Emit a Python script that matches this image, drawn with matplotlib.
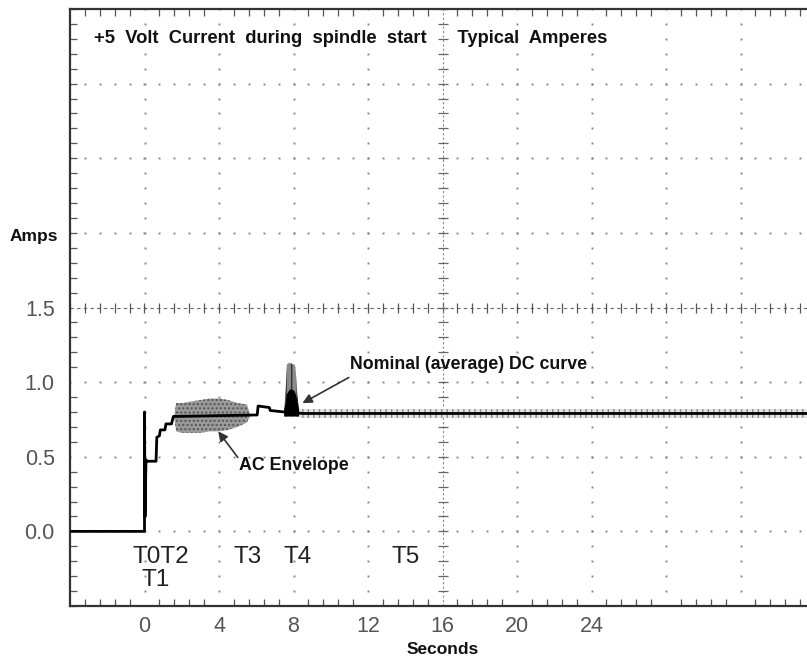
import numpy as np
import matplotlib
matplotlib.use("Agg")
import matplotlib.pyplot as plt

plt.rcParams['font.family'] = ['Liberation Sans', 'DejaVu Sans']

# ---- data ----
dc_t   = [-4.0, 0.0, 0.0, 0.03, 0.08, 0.12, 0.62, 0.66, 0.80, 0.85, 1.10, 1.15, 1.45, 1.55, 6.05, 6.10, 6.70, 6.75, 7.50, 8.50, 36.0]
dc_amp = [0.0, 0.0, 0.80, 0.10, 0.48, 0.47, 0.47, 0.63, 0.64, 0.68, 0.68, 0.72, 0.72, 0.77, 0.78, 0.84, 0.83, 0.81, 0.80, 0.79, 0.79]

ac_t  = [1.60, 1.70, 2.0, 2.5, 3.0, 3.5, 4.0, 4.5, 5.0, 5.5, 5.65]
ac_hi = [0.78, 0.86, 0.86, 0.87, 0.88, 0.89, 0.89, 0.88, 0.86, 0.85, 0.79]
ac_lo = [0.76, 0.67, 0.66, 0.66, 0.66, 0.67, 0.67, 0.68, 0.70, 0.73, 0.77]

spike_t  = [7.50, 7.58, 7.65, 7.8, 7.95, 8.05, 8.12, 8.20, 8.30]
spike_hi = [0.82, 0.95, 1.12, 1.13, 1.12, 1.12, 1.08, 0.92, 0.82]
blob_hi  = [0.82, 0.86, 0.92, 0.95, 0.95, 0.94, 0.92, 0.88, 0.82]
blob_lo  = [0.77, 0.77, 0.77, 0.77, 0.77, 0.77, 0.77, 0.77, 0.77]

noise_t  = [8.3, 36.0]
noise_hi = [0.82, 0.82]
noise_lo = [0.76, 0.76]

x_tick_vals   = [0, 4, 8, 12, 16, 20, 24]
y_tick_vals   = [0.0, 0.5, 1.0, 1.5]
y_tick_labels = ['0.0', '0.5', '1.0', '1.5']

markers_text = ['T0T2', 'T1', 'T3', 'T4', 'T5']
markers_t    = [0.87, 0.6, 5.55, 8.2, 14.0]
markers_amp  = [-0.17, -0.325, -0.175, -0.175, -0.175]

title_text = '+5  Volt  Current  during  spindle  start      Typical  Amperes'

# ---- figure ----
W, H = 807, 662
fig = plt.figure(figsize=(W / 100, H / 100), dpi=100)
ax = fig.add_axes([70 / W, (H - 606) / H, (815 - 70) / W, (606 - 9) / H])
xmin, xmax, ymin, ymax = -4, 36, -0.5, 3.5
ax.set_xlim(xmin, xmax)
ax.set_ylim(ymin, ymax)

grid_c = '#8a8a8a'
# dotted grid
xdots = np.arange(xmin, xmax + 0.01, 0.8)
ydots = np.arange(ymin, ymax + 0.001, 0.1)
for gy in [0.0, 0.5, 1.0, 2.0, 2.5, 3.0]:
    ax.plot(xdots, np.full_like(xdots, gy), ls='none', marker='s', ms=1.4, mew=0, color=grid_c, zorder=1)
for gx in [0, 4, 8, 12, 20, 24, 28, 32]:
    ax.plot(np.full_like(ydots, gx), ydots, ls='none', marker='s', ms=1.4, mew=0, color=grid_c, zorder=1)
# centre lines with ticks
ax.axhline(1.5, color='#666666', lw=0.8, ls=(0, (3, 3)), zorder=1)
ax.plot(xdots, np.full_like(xdots, 1.5), ls='none', marker='|', ms=7, mew=0.9, color='#555555', zorder=1)
ax.axvline(16, color='#888888', lw=0.8, ls=(0, (2, 2)), zorder=1)
ax.plot(np.full_like(ydots, 16), ydots, ls='none', marker='_', ms=7, mew=0.9, color='#666666', zorder=1)

# ---- signal ----
ax.fill_between(noise_t, noise_lo, noise_hi, facecolor='#e4e4e4', edgecolor='#8a8a8a', hatch='|||', lw=0, zorder=2)
ax.fill_between(ac_t, ac_lo, ac_hi, facecolor='#9a9a9a', edgecolor='#555555', hatch='....', lw=0, zorder=2)
ax.fill_between(spike_t, blob_lo, spike_hi, facecolor='#8a8a8a', edgecolor='#333333', hatch='|||', lw=0, zorder=3)
ax.fill_between(spike_t, blob_lo, blob_hi, facecolor='black', lw=0, zorder=4)
ax.plot(dc_t, dc_amp, color='black', lw=2.0, zorder=5)

# ---- spines / ticks ----
for s in ['left', 'bottom', 'top']:
    ax.spines[s].set_color('#333333')
    ax.spines[s].set_linewidth(1.6)
ax.spines['right'].set_visible(False)

ax.set_xticks(np.arange(xmin, xmax + 0.1, 4))
ax.set_xticklabels([str(v) if v in x_tick_vals else '' for v in np.arange(xmin, xmax + 0.1, 4).astype(int)])
ax.set_xticks(xdots, minor=True)
ax.set_yticks(y_tick_vals)
ax.set_yticklabels(y_tick_labels)
ax.set_yticks(ydots, minor=True)
ax.tick_params(axis='both', which='both', direction='in', color='#555555', width=0.9, top=True)
ax.tick_params(axis='both', which='major', length=0)
ax.tick_params(axis='both', which='minor', length=5)
ax.tick_params(axis='x', which='major', labelsize=15.5, labelcolor='#555555', pad=7)
ax.tick_params(axis='y', which='major', labelsize=15.5, labelcolor='#555555', pad=11)

# ---- text ----
ax.text(-2.7, 3.30, title_text, fontsize=13.2, fontweight='bold', ha='left', va='center', color='#111111')
fig.text(34 / W, 1 - 237 / H, 'Amps', fontsize=12.5, fontweight='bold', ha='center', va='center', color='#111111')
fig.text(443 / W, 1 - 649 / H, 'Seconds', fontsize=12.5, fontweight='bold', ha='center', va='center', color='#111111')

for txt, tx, ty in zip(markers_text, markers_t, markers_amp):
    ax.text(tx, ty, txt, fontsize=17.5, ha='center', va='center', color='#222222', zorder=6)

ax.text(11.05, 1.12, 'Nominal (average) DC curve', fontsize=12.8, fontweight='bold', ha='left', va='center', color='#111111')
ax.annotate('', xy=(8.35, 0.85), xytext=(11.1, 1.04),
            arrowprops=dict(arrowstyle='-|>', color='#333333', lw=1.2, mutation_scale=14))
ax.text(5.1, 0.44, 'AC Envelope', fontsize=12.8, fontweight='bold', ha='left', va='center', color='#111111')
ax.annotate('', xy=(3.87, 0.685), xytext=(5.1, 0.48),
            arrowprops=dict(arrowstyle='-|>', color='#333333', lw=1.2, mutation_scale=14))

fig.savefig('out.png', dpi=100)
